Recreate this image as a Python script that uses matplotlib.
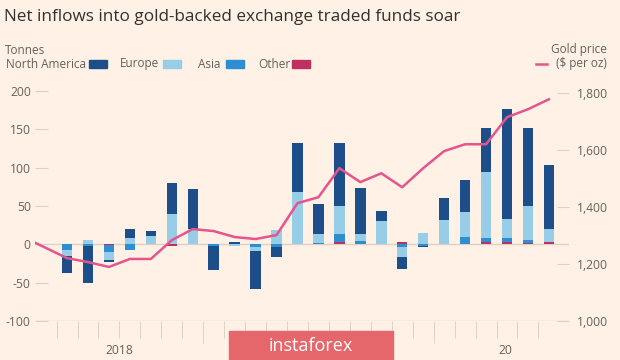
import numpy as np
import matplotlib
matplotlib.use("Agg")
import matplotlib.pyplot as plt
from matplotlib.patches import Rectangle

plt.rcParams['font.family'] = ['Open Sans', 'DejaVu Sans']

# net inflows (tonnes), one bar per period
north_america = [-23, -48, -3, 12, 6, 40, 52, -32, 3, -49, -12, 64, 40, 81, 61, 12, -16, -1, 29, 42, 57, 144, 101, 83]
europe = [-8, 5, -11, 8, 11, 40, 20, 0, -2, -6, 18, 67, 11, 37, 9, 31, -13, 15, 32, 32, 86, 24, 45, 18]
asia = [-7, -2, -8, -7, 0, 0, 0, -2, 0, -3, -4, 1, 2, 10, 4, 0, -3, -2, 0, 10, 5, 6, 4, 0]
other = [0, 0, -1.5, 0, 0, -2, 0, 0, 0, 0, 0, 0, 0, 3.5, 0, 0, 2.5, 0, 0, 0, 3.5, 2.6, 1.3, 2.6]

# gold price ($ per oz), first point sits at the left edge of the chart
gold_price = [1274, 1221, 1207, 1190, 1218, 1218, 1284, 1323, 1316, 1295, 1288, 1302, 1414,
              1435, 1537, 1488, 1519, 1470, 1537, 1597, 1621, 1621, 1716, 1744, 1779]

left_ticks = [-100, -50, 0, 50, 100, 150, 200]
right_ticks = [1000, 1200, 1400, 1600, 1800]
year_labels = ['2018', '20']
year_pos = [2.5, 20.9]

bg = '#FFF1E5'
text_col = '#66605C'
grid_col = '#DDD1C7'
colours = {'North America': '#1D4E89', 'Europe': '#98CDE7', 'Asia': '#2D8ED1', 'Other': '#C0305F'}
line_col = '#E5558B'

fig = plt.figure(figsize=(6.2, 3.6), dpi=100, facecolor=bg)
W, H = 620, 360
ax = fig.add_axes([35 / W, 1 - 321 / H, (569 - 35) / W, (321 - 85) / H])
ax.set_facecolor(bg)
for s in ax.spines.values():
    s.set_visible(False)

x = np.arange(len(north_america))
pos = np.zeros(len(x))
neg = np.zeros(len(x))
for name, vals in [('Other', other), ('Asia', asia), ('Europe', europe), ('North America', north_america)]:
    v = np.array(vals, dtype=float)
    bottom = np.where(v >= 0, pos, neg)
    ax.bar(x, v, 0.5, bottom=bottom, color=colours[name], zorder=3)
    pos = pos + np.where(v >= 0, v, 0)
    neg = neg + np.where(v < 0, v, 0)

ax.axhline(0, color=grid_col, lw=1, zorder=2)
ax.axhline(-100, color=grid_col, lw=1, zorder=2)
ax.set_xlim(-1.53, 23.96)
ax.set_ylim(-100, 207.7)
ax.set_yticks(left_ticks)
ax.set_yticklabels([str(t) for t in left_ticks])
ax.tick_params(axis='y', direction='in', length=9, color=grid_col, labelcolor=text_col,
               labelsize=8.7, pad=3)

# period ticks under the chart
ax.set_xticks([6.5, 17.5])
ax.set_xticklabels([])
ax.set_xticks(np.arange(-0.5, 23, 1), minor=True)
ax.tick_params(axis='x', which='major', direction='out', length=16, color=grid_col, width=0.7)
ax.tick_params(axis='x', which='minor', direction='out', length=12, color=grid_col, width=0.7)
for lab, p in zip(year_labels, year_pos):
    ax.text(p, -0.125, lab, transform=ax.get_xaxis_transform(), ha='center', va='center',
            color=text_col, fontsize=8.7)

ax2 = ax.twinx()
for s in ax2.spines.values():
    s.set_visible(False)
ax2.set_ylim(1000, 1000 + 307.7 * 2.695)
price_x = np.concatenate([[-1.5], x])
ax2.plot(price_x, gold_price, color=line_col, lw=1.8, zorder=4)
ax2.set_yticks(right_ticks)
ax2.set_yticklabels([f'{t:,}' for t in right_ticks])
ax2.tick_params(axis='y', direction='in', length=9, color=grid_col, labelcolor=text_col,
                labelsize=8.7, pad=6)

# title and legend
fig.text(4 / W, 1 - 17 / H, 'Net inflows into gold-backed exchange traded funds soar',
         fontsize=12.3, color='#33302E', va='center', ha='left')
fig.text(5 / W, 1 - 50 / H, 'Tonnes', fontsize=8.5, color=text_col, va='center')
leg = [('North America', 6, 89), ('Europe', 120, 163), ('Asia', 198, 226), ('Other', 258, 292)]
for name, tx, sx in leg:
    fig.text(tx / W, 1 - 64 / H, name, fontsize=8.5, color=text_col, va='center')
    fig.patches.append(Rectangle((sx / W, 1 - 68 / H), 18 / W, 8 / H, transform=fig.transFigure,
                                 color=colours[name]))
fig.text(607 / W, 1 - 50 / H, 'Gold price', fontsize=8.5, color=text_col, va='center', ha='right')
fig.text(607 / W, 1 - 64 / H, '($ per oz)', fontsize=8.5, color=text_col, va='center', ha='right')
fig.lines.append(plt.Line2D([536 / W, 547 / W], [1 - 64 / H, 1 - 64 / H], transform=fig.transFigure,
                            color=line_col, lw=1.8))

# watermark
fig.patches.append(Rectangle((229 / W, 0), 164 / W, 29 / H, transform=fig.transFigure,
                             color='#E5676B', zorder=5))
fig.text(311 / W, 1 - 346 / H, 'instaforex', fontsize=13, color='white', ha='center',
         va='center', zorder=6)

fig.savefig('out.png', dpi=100, facecolor=bg)
